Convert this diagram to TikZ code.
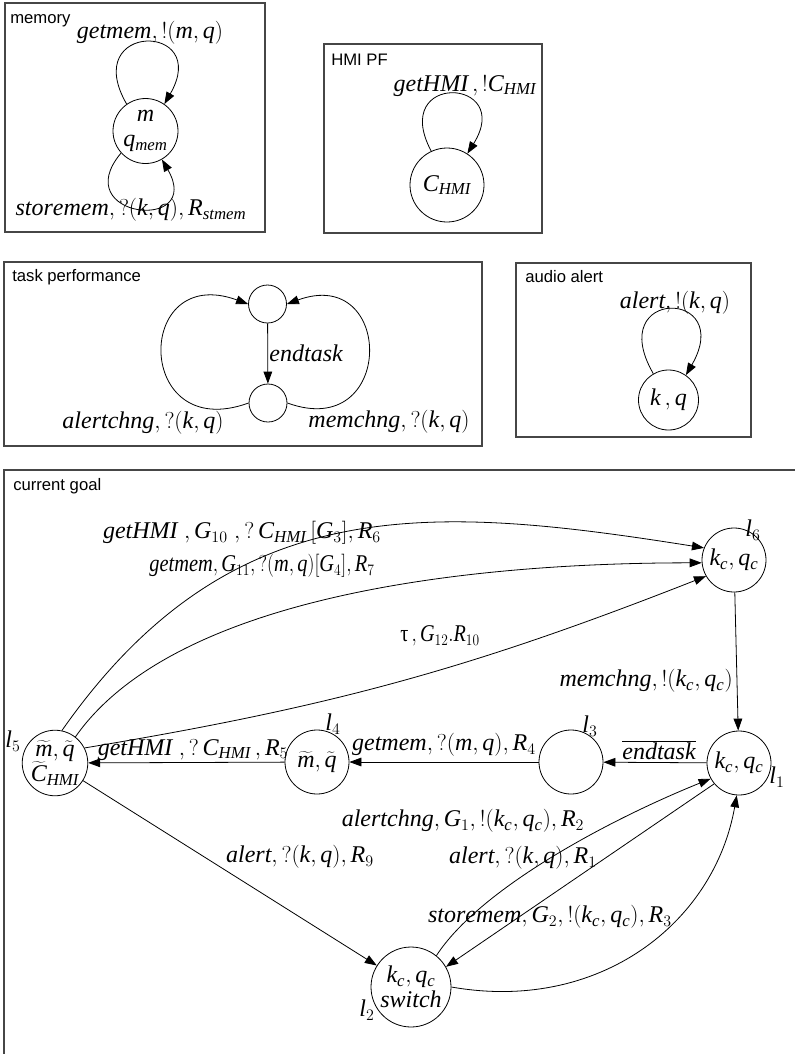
\documentclass[tikz,border=0pt]{standalone}
\usepackage{fontspec}
\setmainfont{Liberation Serif}
\setsansfont{Liberation Sans}
\usetikzlibrary{arrows.meta, positioning}
\definecolor{cframe}{RGB}{70, 70, 70}
\newcommand{\mv}[1]{\mathit{#1}}

\begin{document}
\begin{tikzpicture}[x=0.75pt, y=0.75pt,
  loc/.style={circle, draw, line width=0.6pt, inner sep=0pt, minimum size=#1, align=center, font=\fontsize{18}{19}\selectfont},
  loc/.default=48pt,
  lbl/.style={inner sep=0pt, font=\fontsize{18}{20}\selectfont},
  panel/.style={draw=cframe, line width=1pt},
  boxname/.style={anchor=base west, inner sep=0pt, font=\sffamily\fontsize{12.5}{14}\selectfont},
  arr/.style={line width=0.6pt, -{Triangle[length=9pt, width=6.5pt]}}]
  \useasboundingbox (0,0) rectangle (795,-1054);

  % memory
  \draw[panel] (5,-3) rectangle (265,-232);
  \node[boxname] (memname) at (10,-23) {memory};
  \node[loc=48.75pt] (mem) at (145.5,-131) {$\mv{m}$\\$\mv{q}_{\mv{mem}}$};
  \draw[arr] (mem.125) .. controls +(120:95) and +(60:95) .. (mem.55);
  \draw[arr] (mem.222) .. controls +(230:85) and +(-60:85) .. (mem.-60);
  \node[lbl] (getmemlbl) at (150,-33) {$\mv{getmem},!(\mv{m},\mv{q})$};
  \node[lbl] (storememlbl) at (131,-210) {$\mv{storemem},?(\mv{k},\mv{q}),\mv{R}_{\mv{stmem}}$};

  % HMI PF
  \draw[panel] (324,-44) rectangle (542,-233);
  \node[boxname] (hminame) at (331,-65) {HMI PF};
  \node[loc=55.5pt] (hmi) at (447,-185) {$\mv{C}_{\mv{HMI}}$};
  \draw[arr] (hmi.115) .. controls +(118:90) and +(58:90) .. (hmi.57);
  \node[lbl] (gethmilbl) at (465,-86) {$\mv{getHMI}\,,!\mv{C}_{\mv{HMI}}$};

  % task performance
  \draw[panel] (4,-262) rectangle (482,-446);
  \node[boxname] (tpname) at (12,-281) {task performance};
  \node[loc=28.5pt] (tptop) at (267.5,-304) {};
  \node[loc=28.5pt] (tpbot) at (268,-403) {};
  \draw[arr] (tptop) -- (tpbot) node[lbl, midway, right=1pt] {$\mv{endtask}$};
  \draw[arr] (tpbot.180) .. controls +(200:122) and +(160:122) .. (tptop.180);
  \draw[arr] (tpbot.0) .. controls +(-20:115) and +(20:115) .. (tptop.0);
  \node[lbl] (alertchnglbl) at (143,-423) {$\mv{alertchng},?(\mv{k},\mv{q})$};
  \node[lbl] (memchnglbl) at (389,-422) {$\mv{memchng},?(\mv{k},\mv{q})$};

  % audio alert
  \draw[panel] (516,-263) rectangle (751,-437);
  \node[boxname] (aaname) at (525,-282) {audio alert};
  \node[loc=45pt] (aa) at (668.5,-400) {$\mv{k}\,,\mv{q}$};
  \draw[arr] (aa.120) .. controls +(120:100) and +(60:100) .. (aa.55);
  \node[lbl] (alertlbl) at (675,-303) {$\mv{alert},!(\mv{k},\mv{q})$};

  % current goal
  \draw[panel] (4,-1060) -- (4,-470) -- (800,-470);
  \node[boxname] (cgname) at (13,-490) {current goal};
  \node[loc] (l6) at (734,-560) {$\mv{k}_{\mv{c}},\mv{q}_{\mv{c}}$};
  \node[loc] (l1) at (739,-763) {$\mv{k}_{\mv{c}},\mv{q}_{\mv{c}}$};
  \node[loc] (l3) at (571,-762) {};
  \node[loc] (l4) at (317,-762) {$\widetilde{\mv{m}},\widetilde{\mv{q}}$};
  \node[loc] (l5) at (55,-763) {$\widetilde{\mv{m}},\widetilde{\mv{q}}$\\$\widetilde{\mv{C}}_{\mv{HMI}}$};
  \node[loc=60pt] (l2) at (411,-987) {$\mv{k}_{\mv{c}},\mv{q}_{\mv{c}}$\\$\mv{switch}$};
  \node[lbl] (l6name) at (753,-530) {$\mv{l}_6$};
  \node[lbl] (l1name) at (777,-777) {$\mv{l}_1$};
  \node[lbl] (l3name) at (590,-726) {$\mv{l}_3$};
  \node[lbl] (l4name) at (333,-724) {$\mv{l}_4$};
  \node[lbl] (l5name) at (13,-741) {$\mv{l}_5$};
  \node[lbl] (l2name) at (367,-1010) {$\mv{l}_2$};

  \draw[arr] (l5.78) .. controls +(55:294) and +(171:278) .. (l6.158);
  \draw[arr] (l5.52) .. controls +(55:167) and +(180:250) .. (l6.185);
  \draw[arr] (l5.27) to[bend right=6] (l6.210);
  \draw[arr] (l6) -- (l1);
  \draw[arr] (l1) -- (l3);
  \draw[arr] (l3) -- (l4);
  \draw[arr] (l4) -- (l5);
  \draw[arr] (l5) -- (l2);
  \draw[arr] (l2.51) .. controls +(57:80) and +(202:110) .. (l1.209);
  \draw[arr] (l1.220) -- (l2.30);
  \draw[arr] (l2.0) .. controls +(-10:150) and +(260:130) .. (l1.266);

  \node[lbl] (r6lbl) at (242,-533) {$\mv{getHMI}\;,\mv{G}_{10}\;,?\,\mv{C}_{\mv{HMI}}\,[\mv{G}_3],\mv{R}_6$};
  \node[lbl] (r7lbl) at (262,-566) {\scalebox{0.85}[1]{$\mv{getmem},\mv{G}_{11},?(\mv{m},\mv{q})[\mv{G}_4],\mv{R}_7$}};
  \node[lbl] (r10lbl) at (440,-636) {\scalebox{0.84}[1]{\mbox{τ}$\,,\mv{G}_{12}.\mv{R}_{10}$}};
  \node[lbl, anchor=east] (memchngout) at (733,-681) {$\mv{memchng},!(\mv{k}_{\mv{c}},\mv{q}_{\mv{c}})$};
  \node[lbl] (endtasklbl) at (659,-750) {$\overline{\mv{endtask}}$};
  \node[lbl] (r4lbl) at (444,-745) {$\mv{getmem},?(\mv{m},\mv{q}),\mv{R}_4$};
  \node[lbl] (r5lbl) at (193,-750) {$\mv{getHMI}\;,?\,\mv{C}_{\mv{HMI}}\,,\mv{R}_5$};
  \node[lbl] (r2lbl) at (463,-821) {$\mv{alertchng},\mv{G}_1,!(\mv{k}_{\mv{c}},\mv{q}_{\mv{c}}),\mv{R}_2$};
  \node[lbl] (r9lbl) at (300,-857) {$\mv{alert},?(\mv{k},\mv{q}),\mv{R}_9$};
  \node[lbl] (r1lbl) at (523,-858) {$\mv{alert},?(\mv{k},\mv{q}),\mv{R}_1$};
  \node[lbl] (r3lbl) at (550,-917) {$\mv{storemem},\mv{G}_2,!(\mv{k}_{\mv{c}},\mv{q}_{\mv{c}}),\mv{R}_3$};
\end{tikzpicture}
\end{document}
